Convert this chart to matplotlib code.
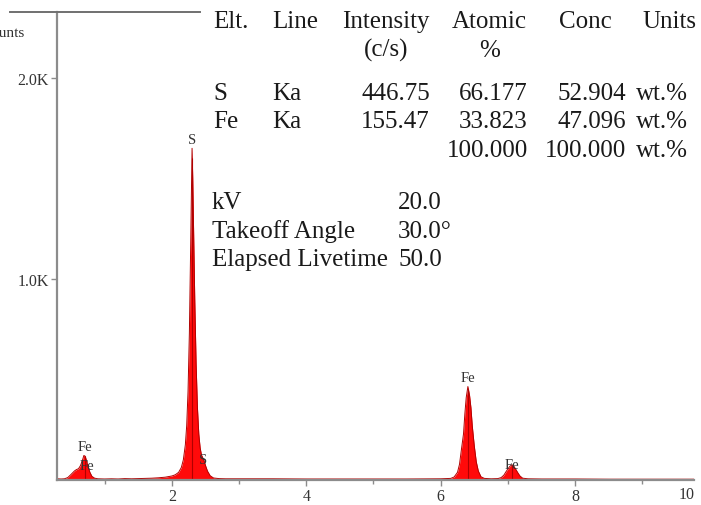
import matplotlib
matplotlib.use("Agg")
import matplotlib.pyplot as plt
from matplotlib.lines import Line2D

plt.rcParams['font.family'] = ['Liberation Serif', 'DejaVu Serif']

# EDS spectrum (keV, counts)
energy_kev = [0.29, 0.35, 0.40, 0.45, 0.50, 0.55, 0.58, 0.61, 0.64, 0.67, 0.69, 0.71,
              0.73, 0.75, 0.78, 0.81, 0.85, 0.90, 1.00, 1.10, 1.20, 1.30, 1.40, 1.50,
              1.60, 1.70, 1.80, 1.90, 2.00, 2.05, 2.10, 2.14, 2.17, 2.20, 2.22, 2.24,
              2.26, 2.28, 2.29, 2.30, 2.31, 2.32, 2.34, 2.36, 2.38, 2.40, 2.42, 2.44,
              2.46, 2.48, 2.50, 2.53, 2.57, 2.62, 2.70, 2.80, 3.00, 3.50, 4.00, 4.50,
              5.00, 5.50, 6.00, 6.15, 6.20, 6.25, 6.28, 6.31, 6.34, 6.36, 6.38, 6.405,
              6.43, 6.45, 6.47, 6.50, 6.53, 6.56, 6.60, 6.65, 6.75, 6.85, 6.90, 6.94,
              6.97, 7.00, 7.03, 7.06, 7.09, 7.12, 7.15, 7.18, 7.22, 7.30, 7.50, 8.00,
              8.50, 9.00, 9.50, 9.77]
counts = [6, 5, 6, 12, 28, 45, 52, 56, 72, 100, 122, 118,
          95, 68, 38, 18, 9, 6, 5, 6, 5, 7, 6, 7,
          8, 9, 11, 14, 20, 26, 38, 62, 100, 175, 270, 440,
          730, 1180, 1420, 1650, 1500, 1300, 900, 580, 360, 230, 160, 125,
          110, 94, 72, 44, 21, 10, 7, 6, 6, 6, 5, 5,
          5, 5, 6, 8, 15, 38, 78, 155, 230, 330, 410, 465,
          420, 360, 270, 170, 90, 45, 16, 8, 6, 7, 12, 24,
          40, 55, 68, 76, 68, 52, 35, 20, 9, 6, 5, 5,
          4, 4, 4, 4]

# peak labels: energy, count level, element, gap above (pt; 0 = centred on level)
label_kev = [0.70, 0.74, 2.30, 2.46, 6.405, 7.06]
label_cts = [125, 72, 1650, 104, 465, 76]
label_txt = ['Fe', 'Fe', 'S', 'S', 'Fe', 'Fe']
label_pad = [1.5, 0, 1.5, 0, 1.5, 0]

# line markers drawn inside the peaks
marker_kev = [0.70, 2.30, 6.405, 7.06]
marker_cts = [122, 1650, 465, 76]

# quantification table
elements = ['S', 'Fe']
lines = ['Ka', 'Ka']
intensity = ['446.75', '155.47']
atomic = ['66.177', '33.823']
conc = ['52.904', '47.096']
total = '100.000'

params = ['kV', 'Takeoff Angle', 'Elapsed Livetime']
param_vals = ['20.0', '30.0\u00b0', '50.0']

W, H = 701, 506
fig = plt.figure(figsize=(W / 100, H / 100), dpi=100)
ax = fig.add_axes([57 / W, (H - 481) / H, (694 - 57) / W, (481 - 13) / H])

red = '#ff0a0a'
dark = '#b00000'
gray = '#8c8c8c'
ink = '#1a1a1a'

ax.fill_between(energy_kev, counts, 0, color=red, linewidth=0)
ax.plot(energy_kev, counts, color=dark, lw=0.7)
ax.vlines(marker_kev, 0, [c * 0.97 for c in marker_cts], color=dark, lw=0.8)

for e, c, t, p in zip(label_kev, label_cts, label_txt, label_pad):
    ax.annotate(t, (e, c), xytext=(0, p), textcoords='offset points',
                ha='center', va='bottom' if p else 'center', fontsize=10.5, color='#333333')

ax.set_xlim(0.29, 9.77)
ax.set_ylim(0, 2328)
ax.set_xticks([2, 4, 6, 8])
ax.set_xticks([1, 3, 5, 7, 9], minor=True)
ax.set_yticks([1000, 2000])
ax.set_yticklabels(['1.0K', '2.0K'])
ax.tick_params(axis='both', direction='out', length=4, width=1, color=gray,
               labelsize=11.5, labelcolor='#333333', pad=2)
ax.tick_params(axis='x', which='minor', direction='out', length=3, width=1, color=gray)
ax.annotate('10', xy=(1, 0), xycoords='axes fraction', xytext=(-5, -4.5),
            textcoords='offset points', ha='center', va='top',
            fontsize=11.5, color='#333333')

for s in ['top', 'right']:
    ax.spines[s].set_visible(False)
for s in ['left', 'bottom']:
    ax.spines[s].set_color(gray)
    ax.spines[s].set_linewidth(1.6)

# frame line at top left
fig.add_artist(Line2D([10 / W, 200 / W], [1 - 13 / H, 1 - 13 / H], color='#707070', lw=1.4))
# axis title, cropped at the left edge as in the source image
fig.text(25 / W, 1 - 37 / H, 'Counts', ha='right', va='baseline', fontsize=11, color='#333333')


def put(x, y, s, ha='left', size=18):
    fig.text(x / W, 1 - y / H, s, ha=ha, va='baseline', fontsize=size, color=ink)


put(213, 28, 'Elt.')
put(272, 28, 'Line')
put(430, 28, 'Intensity', ha='right')
put(527, 28, 'Atomic', ha='right')
put(585, 28, 'Conc', ha='center')
put(669, 28, 'Units', ha='center')
put(386, 57, '(c/s)', ha='center')
put(490, 57, '%', ha='center')

row_y = [100, 128]
for i in range(len(elements)):
    put(213, row_y[i], elements[i])
    put(272, row_y[i], lines[i])
    put(430, row_y[i], intensity[i], ha='right')
    put(528, row_y[i], atomic[i], ha='right')
    put(626, row_y[i], conc[i], ha='right')
    put(636, row_y[i], 'wt.%')
put(528, 157, total, ha='right')
put(626, 157, total, ha='right')
put(636, 157, 'wt.%')

param_y = [209, 238, 266]
for name, val, y in zip(params, param_vals, param_y):
    put(212, y, name)
    put(398, y, val)

fig.savefig('out.png', dpi=100)
